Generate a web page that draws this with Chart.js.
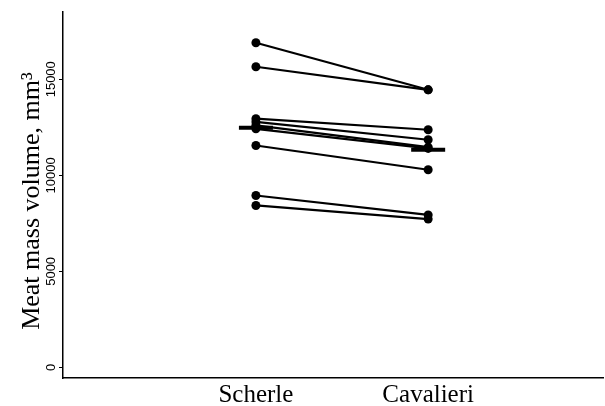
<!DOCTYPE html>
<html>
<head>
<meta charset="utf-8">
<script src="https://cdn.jsdelivr.net/npm/chart.js@4/dist/chart.umd.min.js"></script>
<style>
  html, body { margin: 0; padding: 0; background: #fff; }
  #wrap { width: 605px; height: 406px; }
</style>
</head>
<body>
<div id="wrap"><canvas id="c" width="605" height="406"></canvas></div>
<script>
// Methods compared on the same specimens
const methods = ['Scherle', 'Cavalieri'];

// Meat mass volume (mm³) per specimen, paired by index
const scherle   = [16900, 15650, 12950, 12780, 12600, 12420, 11550, 8950, 8430];
const cavalieri = [14450, 14450, 12370, 11850, 11470, 11400, 10290, 7940, 7720];

// Y axis tick values
const yTicks = [0, 5000, 10000, 15000];
const yTitle = 'Meat mass volume, mm³';

const mean = arr => arr.reduce((a, b) => a + b, 0) / arr.length;

// One line per specimen, Scherle at x = 1 and Cavalieri at x = 2
const pairDatasets = scherle.map((s, i) => ({
  type: 'line',
  data: [{ x: 1, y: s }, { x: 2, y: cavalieri[i] }],
  borderColor: '#000',
  backgroundColor: '#000',
  borderWidth: 2.2,
  pointRadius: 4.5,
  pointHoverRadius: 4.5,
  pointBorderWidth: 0,
  fill: false
}));

// Group means as short horizontal bars
const meanDataset = {
  type: 'scatter',
  data: [{ x: 1, y: mean(scherle) }, { x: 2, y: mean(cavalieri) }],
  pointStyle: 'line',
  pointRadius: 17,
  pointHoverRadius: 17,
  borderColor: '#000',
  borderWidth: 4,
  showLine: false
};

// Rotated y tick labels and axis title
const yLabels = {
  id: 'yLabels',
  afterDraw(chart) {
    const ctx = chart.ctx;
    const y = chart.scales.y;
    ctx.save();
    ctx.fillStyle = '#000';
    ctx.font = '13px "Liberation Sans", Arial, sans-serif';
    ctx.textAlign = 'center';
    ctx.textBaseline = 'alphabetic';
    yTicks.forEach(v => {
      const py = y.getPixelForValue(v);
      ctx.save();
      ctx.translate(55, py);
      ctx.rotate(-Math.PI / 2);
      ctx.fillText(String(v), 0, 0);
      ctx.restore();
    });
    ctx.font = '26px "Liberation Serif", "Times New Roman", serif';
    ctx.save();
    ctx.translate(39, 201);
    ctx.rotate(-Math.PI / 2);
    ctx.fillText(yTitle, 0, 0);
    ctx.restore();
    ctx.restore();
  }
};

new Chart(document.getElementById('c'), {
  data: { datasets: [...pairDatasets, meanDataset] },
  options: {
    responsive: false,
    animation: false,
    devicePixelRatio: 1,
    layout: { autoPadding: false, padding: { top: 12, right: 2, left: 0, bottom: 0 } },
    plugins: { legend: { display: false }, tooltip: { enabled: false } },
    scales: {
      x: {
        type: 'linear',
        min: -0.12,
        max: 3.015,
        afterBuildTicks: s => { s.ticks = methods.map((_, i) => ({ value: i + 1 })); },
        afterFit: s => { s.height = 28; s.paddingLeft = 0; s.paddingRight = 0; },
        grid: { display: false, drawTicks: false },
        border: { display: true, color: '#000', width: 1.5 },
        ticks: {
          color: '#000',
          padding: 2,
          maxRotation: 0,
          autoSkip: false,
          font: { family: '"Liberation Serif", "Times New Roman", serif', size: 25 },
          callback: v => methods[v - 1] || ''
        }
      },
      y: {
        type: 'linear',
        min: -550,
        max: 18500,
        afterBuildTicks: s => { s.ticks = yTicks.map(v => ({ value: v })); },
        afterFit: s => { s.width = 63; s.paddingTop = 0; s.paddingBottom = 0; },
        grid: { drawOnChartArea: false, drawTicks: true, tickLength: 4, color: '#000', lineWidth: 1 },
        border: { display: true, color: '#000', width: 1.5 },
        ticks: { display: false }
      }
    }
  },
  plugins: [yLabels]
});
</script>
</body>
</html>
